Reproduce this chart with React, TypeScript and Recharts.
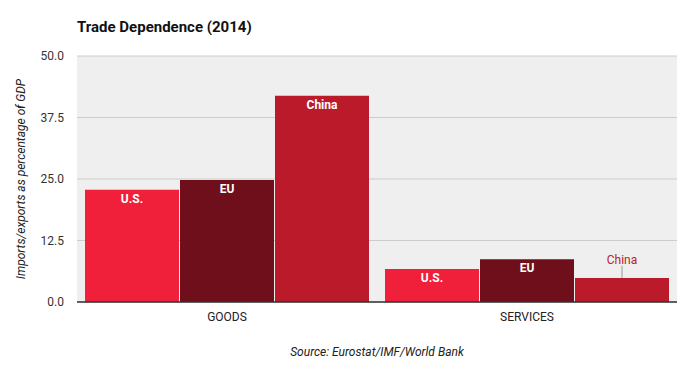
import { BarChart, Bar, XAxis, YAxis, CartesianGrid, LabelList } from "recharts";

// categories and series values (share of GDP, %)
const CATEGORIES = ["GOODS", "SERVICES"];
const US = [22.8, 6.7];
const EU = [24.8, 8.7];
const CHINA = [41.9, 4.9];
const Y_TICKS = [0, 12.5, 25, 37.5, 50];

const data = CATEGORIES.map((name, i) => ({
  name,
  us: US[i],
  eu: EU[i],
  china: CHINA[i],
}));

const FONT = "Roboto, 'DejaVu Sans', sans-serif";

const insideLabel = (text: string) => (props: any) => {
  const { x, y, width } = props;
  return (
    <text
      x={x + width / 2}
      y={y + 13}
      textAnchor="middle"
      fill="#fff"
      fontSize={12}
      fontWeight={700}
      fontFamily={FONT}
    >
      {text}
    </text>
  );
};

// China services bar is too short, so its label sits above with a leader line
const chinaLabel = (props: any) => {
  const { x, y, width, index } = props;
  const cx = x + width / 2;
  if (index === 1) {
    return (
      <g>
        <line x1={cx} x2={cx} y1={y - 12} y2={y} stroke="#999" strokeWidth={1} />
        <text x={cx} y={y - 14} textAnchor="middle" fill="#b71c2b" fontSize={12} fontFamily={FONT}>
          China
        </text>
      </g>
    );
  }
  return insideLabel("China")(props);
};

export default function App() {
  return (
    <div style={{ position: "absolute", left: 0, top: 0, width: 697, height: 366, background: "#fff", fontFamily: FONT }}>
      <div style={{ position: "absolute", left: 77, top: 18, fontSize: 15, fontWeight: 700, color: "#111" }}>
        Trade Dependence (2014)
      </div>
      <BarChart
        width={697}
        height={366}
        data={data}
        margin={{ top: 56, right: 20, bottom: 34, left: 0 }}
        barCategoryGap={8}
        barGap={1}
      >
        <CartesianGrid vertical={false} stroke="#cccccc" fill="#efefef" />
        <XAxis
          dataKey="name"
          height={30}
          tickLine={false}
          tickSize={0}
          tickMargin={10}
          axisLine={{ stroke: "#333", strokeWidth: 1.5 }}
          tick={{ fontSize: 12, fill: "#222", fontFamily: FONT }}
        />
        <YAxis
          width={77}
          domain={[0, 50]}
          ticks={Y_TICKS}
          tickFormatter={(v: number) => v.toFixed(1)}
          tickLine={false}
          axisLine={false}
          tickSize={0}
          tickMargin={13}
          tick={{ fontSize: 12, fill: "#333", fontFamily: FONT }}
          label={{
            value: "Imports/exports as percentage of GDP",
            angle: -90,
            position: "insideLeft",
            offset: 21,
            style: { fontSize: 12, fontStyle: "italic", fill: "#222", textAnchor: "middle", fontFamily: FONT },
          }}
        />
        <Bar dataKey="us" fill="#f0203a" isAnimationActive={false}>
          <LabelList dataKey="us" content={insideLabel("U.S.")} />
        </Bar>
        <Bar dataKey="eu" fill="#6f0f1c" isAnimationActive={false}>
          <LabelList dataKey="eu" content={insideLabel("EU")} />
        </Bar>
        <Bar dataKey="china" fill="#bb1a2b" isAnimationActive={false}>
          <LabelList dataKey="china" content={chinaLabel} />
        </Bar>
      </BarChart>
      <div
        style={{
          position: "absolute",
          left: 0,
          width: 754,
          top: 345,
          textAlign: "center",
          fontSize: 12,
          fontStyle: "italic",
          color: "#222",
        }}
      >
        Source: Eurostat/IMF/World Bank
      </div>
    </div>
  );
}
